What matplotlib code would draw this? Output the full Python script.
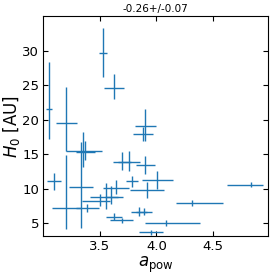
import numpy as np
import matplotlib
matplotlib.use('Agg')
import matplotlib.pyplot as plt

# point centres
a_pow = [3.051, 3.205, 3.095, 3.205, 3.332, 3.347, 3.373, 3.391, 3.529, 3.624,
         3.904, 3.883, 3.697, 3.759, 3.903, 4.009, 3.919, 3.786, 3.848, 3.892,
         3.627, 3.692, 4.084, 3.950, 4.314, 4.841, 3.639, 3.559, 3.506, 3.602]
h0 = [21.61, 19.49, 11.06, 7.11, 10.19, 15.47, 15.39, 7.14, 29.71, 24.58,
      19.14, 17.89, 13.87, 13.87, 13.39, 11.25, 9.84, 11.06, 6.64, 6.64,
      5.92, 5.39, 5.00, 3.66, 7.88, 10.55, 10.09, 8.85, 8.15, 8.78]

# errors (lower, upper)
a_lo = [0.030, 0.096, 0.063, 0.125, 0.108, 0.142, 0.083, 0.100, 0.034, 0.088,
        0.091, 0.088, 0.078, 0.100, 0.084, 0.137, 0.154, 0.054, 0.068, 0.068,
        0.072, 0.103, 0.184, 0.105, 0.139, 0.215, 0.115, 0.147, 0.168, 0.060]
a_hi = [0.030, 0.096, 0.063, 0.125, 0.108, 0.173, 0.083, 0.100, 0.034, 0.088,
        0.091, 0.088, 0.078, 0.100, 0.084, 0.137, 0.150, 0.054, 0.068, 0.068,
        0.072, 0.103, 0.305, 0.105, 0.279, 0.106, 0.115, 0.147, 0.082, 0.060]
h_lo = [4.40, 3.98, 1.28, 2.94, 5.92, 2.29, 1.23, 0.56, 3.53, 1.60,
        2.22, 0.97, 1.17, 1.27, 1.30, 1.27, 1.15, 0.76, 0.65, 0.55,
        0.55, 0.40, 0.40, 0.34, 0.42, 0.36, 0.92, 1.82, 0.64, 1.06]
h_hi = [6.79, 5.32, 1.28, 7.82, 6.63, 2.71, 1.53, 0.56, 3.59, 2.08,
        2.39, 1.11, 1.41, 1.55, 1.30, 1.27, 1.15, 0.76, 0.65, 0.55,
        0.55, 0.40, 0.40, 0.34, 0.42, 0.36, 1.16, 1.92, 1.07, 1.64]

title = '-0.26+/-0.07'

fig = plt.figure(figsize=(2.74, 2.76), dpi=100)
ax = fig.add_axes([0.158, 0.144, 0.819, 0.798])

ax.errorbar(a_pow, h0, xerr=[a_lo, a_hi], yerr=[h_lo, h_hi],
            fmt='none', ecolor='#1f77b4', elinewidth=1.0)

ax.set_xlim(3.0, 4.985)
ax.set_ylim(3.07, 35.1)
ax.set_xticks([3.5, 4.0, 4.5])
ax.set_yticks([5, 10, 15, 20, 25, 30])
ax.tick_params(direction='in', top=True, right=True, labelsize=9.5, pad=3)

ax.set_xlabel(r'$a_{\rm pow}$', fontsize=12, labelpad=1)
ax.set_ylabel(r'$H_0$ [AU]', fontsize=12, labelpad=0)
ax.set_title(title, fontsize=7.5, pad=3)

fig.savefig('out.png', dpi=100)
